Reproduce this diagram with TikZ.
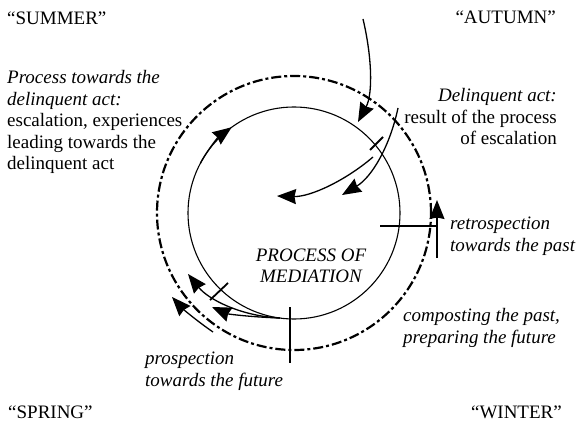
\documentclass[tikz,border=0pt]{standalone}
\usepackage{fontspec}
\setmainfont{Liberation Serif}
\usetikzlibrary{arrows.meta}

\begin{document}
\begin{tikzpicture}[x=1pt,y=1pt]

  \tikzset{season/.style = {font=\fontsize{19}{21.5}\selectfont, inner sep=0pt}}
  \tikzset{note/.style = {font=\fontsize{19}{21.5}\selectfont\itshape, inner sep=0pt}}
  \tikzset{flow/.style = {-{Stealth[length=19pt,width=15pt,inset=1.5pt]}, line width=1.3pt}}
  \tikzset{tick/.style = {line width=1.8pt}}
  \useasboundingbox (0,0) rectangle (578,429);
  % circles
  \coordinate (m) at (294,216);
  \draw[line width=1.1pt] (m) circle (106pt);
  \draw[line width=2.2pt, dash pattern=on 10pt off 3pt on 3pt off 3pt] (m) circle (137pt);
  \draw[flow] (m) ++(152:106pt) arc (152:126:106pt);
  % labels
  \node[season, anchor=west] (summer) at (7,411) {“SUMMER”};
  \node[season, anchor=east] (autumn) at (556,412) {“AUTUMN”};
  \node[season, anchor=west] (spring) at (8,17) {“SPRING”};
  \node[season, anchor=east] (winter) at (562,17) {“WINTER”};
  \node[season, anchor=west, align=left] (towards) at (7,307)
    {\textit{Process towards the}\\\textit{delinquent act:}\\escalation, experiences\\leading towards the\\delinquent act};
  \node[season, anchor=east, align=right] (act) at (557,312)
    {\textit{Delinquent act:}\\result of the process\\of escalation};
  \node[note, anchor=west, align=left] (retro) at (450,193) {retrospection\\towards the past};
  \node[note, anchor=west, align=left] (compost) at (403,101) {composting the past,\\preparing the future};
  \node[note, anchor=west, align=left] (prosp) at (145,58) {prospection\\towards the future};
  \node[note, align=center] (mediation) at (311,163) {PROCESS OF\\MEDIATION};
  % arrows
  \coordinate (in0) at (363,410);
  \coordinate (in1) at (358,307);
  \draw[flow] (in0) .. controls (372,372) and (373,335) .. (in1);
  \coordinate (res0) at (398,321);
  \coordinate (res1) at (342,234);
  \draw[flow] (res0) .. controls (390,283) and (372,252) .. (res1);
  \coordinate (esc0) at (373,272);
  \coordinate (esc1) at (277,233);
  \draw[flow] (esc0) .. controls (345,248) and (310,232) .. (esc1);
  \coordinate (ret0) at (437,171);
  \coordinate (ret1) at (437,229);
  \draw[flow] (ret0) -- (ret1);
  \coordinate (low) at (280,111);
  \coordinate (pro1) at (188,155);
  \coordinate (pro2) at (212,122);
  \coordinate (pro3) at (213,97);
  \coordinate (pro4) at (172,132);
  \draw[flow] (low) .. controls (240,113) and (208,130) .. (pro1);
  \draw[flow] (low) .. controls (250,112) and (228,115) .. (pro2);
  \draw[flow] (pro3) .. controls (197,108) and (183,120) .. (pro4);
  % ticks
  \draw[tick] (370,279) -- (383,292);
  \draw[tick] (210,129) -- (228,146);
  \draw[tick] (380,203) -- (437,203);
  \draw[tick] (290,122) -- (290,66);
\end{tikzpicture}
\end{document}
